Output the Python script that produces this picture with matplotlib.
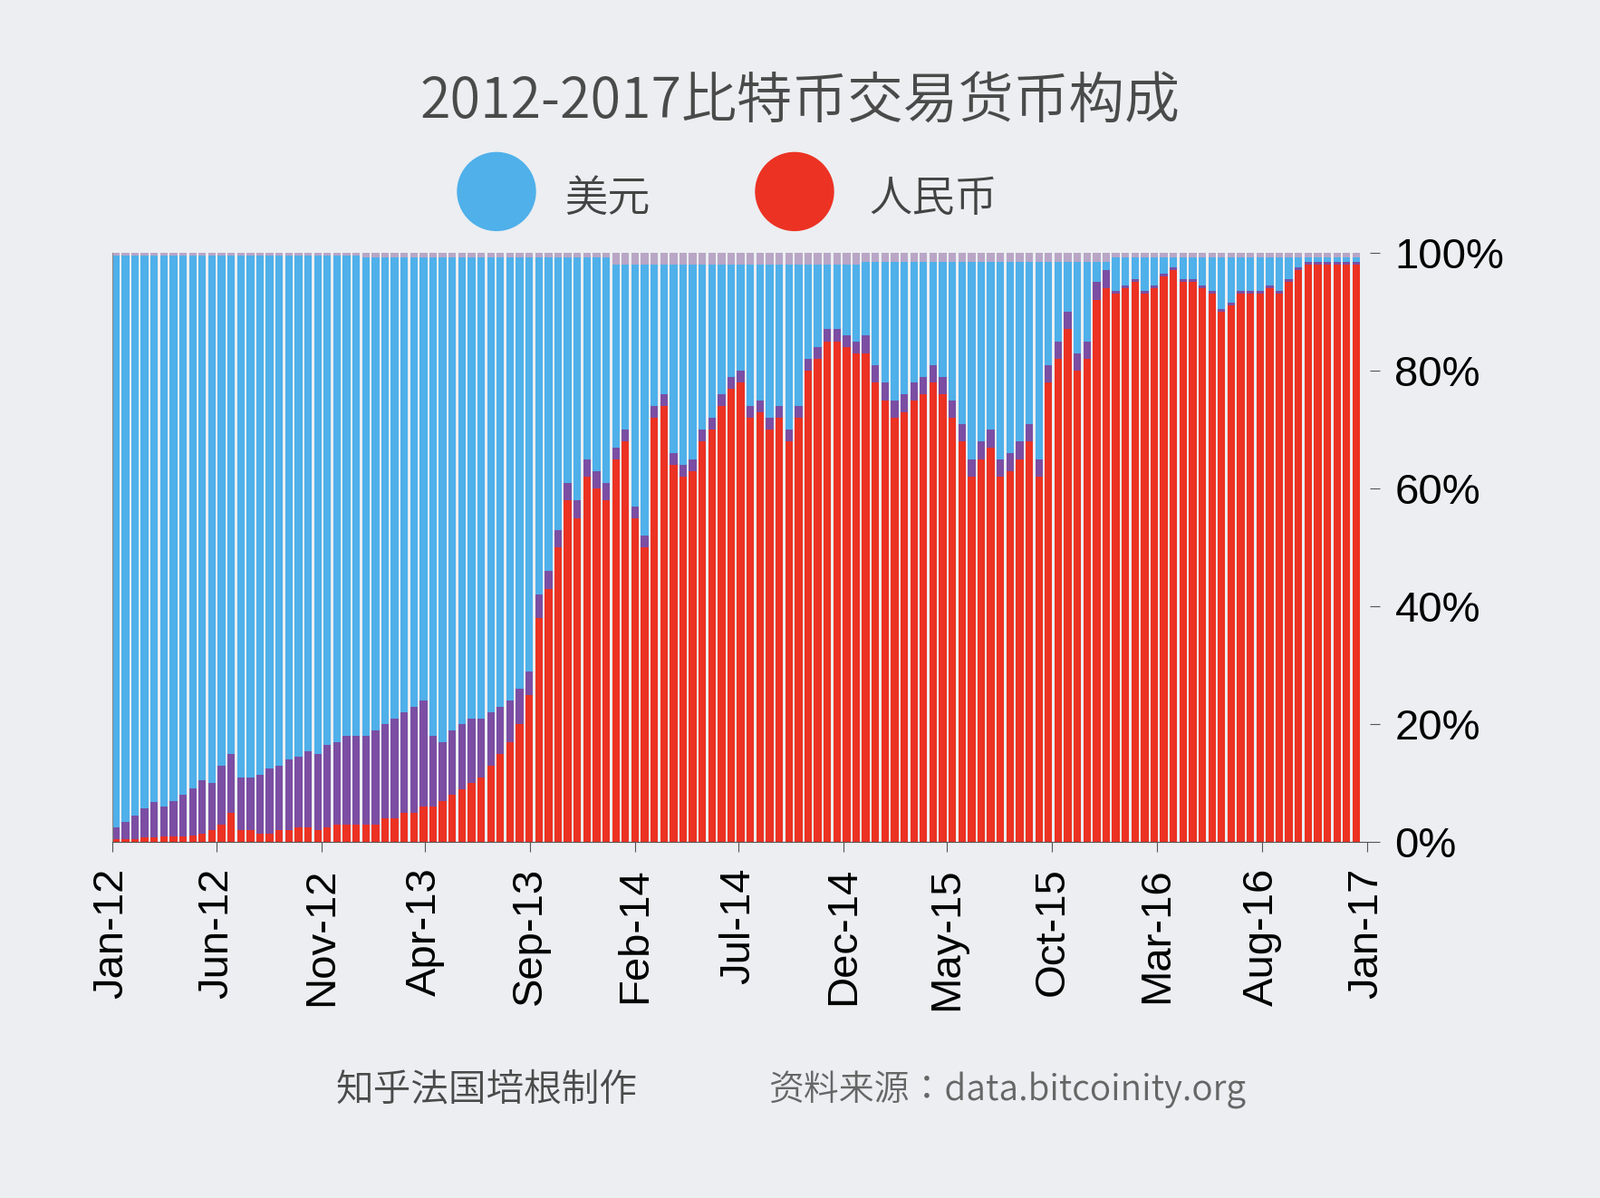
import matplotlib
matplotlib.use("Agg")
import matplotlib.pyplot as plt
from matplotlib import font_manager as fm
import numpy as np
import pandas as pd
from matplotlib.patches import Circle

cny_2012 = [0.5,0.5,0.5,0.8,0.8,1,1,1,1.2,1.5,2,3,5,2,2,1.5,1.5,2,2,2.5,2.5,2,2.5,3,3,3]
oth_2012 = [2,3,4,5,6,5,6,7,8,9,8,10,10,9,9,10,11,11,12,12,13,13,14,14,15,15]
cny_2013 = [3,3,4,4,5,5,6,6,7,8,9,10,11,13,15,17,20,25,38,43,50,58,55,62,60,58]
oth_2013 = [15,16,16,17,17,18,18,12,10,11,11,11,10,9,8,7,6,4,4,3,3,3,3,3,3,3]
cny_2014 = [65,68,55,50,72,74,64,62,63,68,70,74,77,78,72,73,70,72,68,72,80,82,85,85,84,83]
oth_2014 = [2]*26
cny_2015 = [83,78,75,72,73,75,76,78,76,72,68,62,65,67,62,63,65,68,62,78,82,87,80,82,92,94]
oth_2015 = [3]*26
cny_2016 = [93,94,95,93,94,96,97,95,95,94,93,90,91,93,93,93,94,93,95,97,98,98,98,98,98,98]
oth_2016 = [0.5]*26
misc_share = [0.5]*26 + [0.8]*26 + [2]*26 + [1.5]*26 + [0.8]*26

cny = np.array(cny_2012 + cny_2013 + cny_2014 + cny_2015 + cny_2016, float)
oth = np.array(oth_2012 + oth_2013 + oth_2014 + oth_2015 + oth_2016, float)
misc = np.array(misc_share, float)
usd = 100 - cny - oth - misc

tick_labels = ["Jan-12","Jun-12","Nov-12","Apr-13","Sep-13","Feb-14","Jul-14",
               "Dec-14","May-15","Oct-15","Mar-16","Aug-16","Jan-17"]

# locate a CJK font file
cjk_path = None
for pref in ["Noto Sans CJK SC", "Noto Sans CJK JP", "Noto Sans CJK TC", "Noto Sans CJK KR"]:
    for f in fm.fontManager.ttflist:
        if f.name == pref:
            cjk_path = f.fname; break
    if cjk_path: break
if cjk_path is None:
    for f in fm.fontManager.ttflist:
        if "CJK" in f.name or "CJK" in f.fname:
            cjk_path = f.fname; break
def cjk(size, bold=False):
    if cjk_path:
        return fm.FontProperties(fname=cjk_path, size=size, weight="bold" if bold else "normal")
    return fm.FontProperties(family="Noto Sans CJK SC", size=size, weight="bold" if bold else "normal")

dates = pd.date_range("2012-01-01", periods=len(cny), freq="14D")

fig = plt.figure(figsize=(17.66, 13.22), dpi=100)
fig.patch.set_facecolor("#eceef1")
ax = fig.add_axes([0.070, 0.297, 0.786, 0.492])
ax.set_facecolor("none")

w = 11
ax.bar(dates, cny, width=w, color="#ec3223", align="edge")
ax.bar(dates, oth, width=w, bottom=cny, color="#7b4ea3", align="edge")
ax.bar(dates, usd, width=w, bottom=cny + oth, color="#4fb0ea", align="edge")
ax.bar(dates, misc, width=w, bottom=cny + oth + usd, color="#b9a6c6", align="edge")

ax.set_ylim(0, 100)
ax.set_xlim(pd.Timestamp("2012-01-01"), pd.Timestamp("2017-01-05"))
ax.yaxis.tick_right()
ax.set_yticks([0, 20, 40, 60, 80, 100])
ax.set_yticklabels(["0%", "20%", "40%", "60%", "80%", "100%"],
                   fontfamily="Liberation Sans", fontsize=34)
tpos = [pd.Timestamp(s) for s in ["2012-01-01","2012-06-01","2012-11-01","2013-04-01",
        "2013-09-01","2014-02-01","2014-07-01","2014-12-01","2015-05-01","2015-10-01",
        "2016-03-01","2016-08-01","2017-01-01"]]
ax.set_xticks(tpos)
ax.set_xticklabels(tick_labels, rotation=90, fontfamily="Liberation Sans", fontsize=34)
for s in ["top", "right"]:
    ax.spines[s].set_visible(False)
ax.spines["left"].set_color("#888888")
ax.spines["bottom"].set_color("#555555")
ax.tick_params(axis="both", length=8, color="#555555", pad=12)

fig.text(0.5, 0.915, "2012-2017比特币交易货币构成", ha="center", va="center",
         fontproperties=cjk(44, True), color="#4a4a4a")
lax = fig.add_axes([0, 0.8, 1, 0.08]); lax.set_xlim(0, 1766); lax.set_ylim(0, 105.76); lax.axis("off")
lax.add_patch(Circle((548, 53), 43, color="#4fb0ea"))
lax.add_patch(Circle((877, 53), 43, color="#ec3223"))
lax.set_aspect("equal")
fig.text(0.353, 0.834, "美元", va="center", fontproperties=cjk(34), color="#444444")
fig.text(0.543, 0.834, "人民币", va="center", fontproperties=cjk(34), color="#444444")

fig.text(0.21, 0.09, "知乎法国培根制作", va="center", fontproperties=cjk(30, True), color="#4a4a4a")
fig.text(0.48, 0.09, "资料来源：data.bitcoinity.org", va="center", fontproperties=cjk(28), color="#666666")

fig.savefig("out.png", dpi=100, facecolor=fig.get_facecolor())
